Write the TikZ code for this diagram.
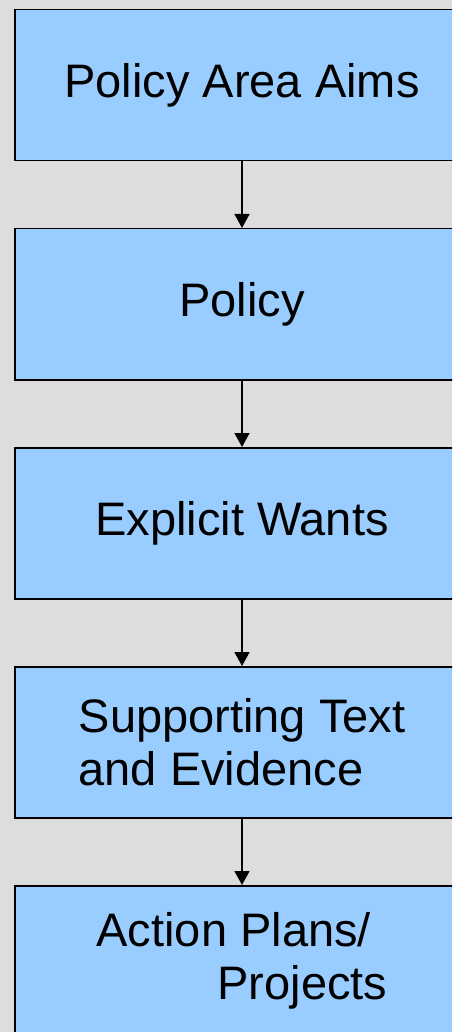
\documentclass[tikz,border=0pt]{standalone}
\usepackage{fontspec}
\setmainfont{Liberation Sans}
\usepackage{xcolor}
\usepackage{tikz}
\usetikzlibrary{arrows.meta, positioning}

\definecolor{nenxam}{HTML}{DDDDDD}
\definecolor{xanhnhat}{HTML}{99CCFF}

\begin{document}
\begin{tikzpicture}[>={Triangle[length=14pt, width=15pt]}, node distance=66.5pt,
    hop/.style={draw=black, line width=1.5pt, fill=xanhnhat,
        minimum width=454pt, minimum height=151pt, inner sep=0pt,
        align=left, font=\fontsize{47pt}{53pt}\selectfont}]
    % Khung nền xám, cắt phần hộp tràn ra ngoài
    \useasboundingbox (0,0) rectangle (452pt,-1032pt);
    \clip (0,0) rectangle (452pt,-1032pt);
    \fill[nenxam] (0,0) rectangle (452pt,-1032pt);

    % Các hộp xếp theo cột dọc
    \node[hop, anchor=north] (aims) at (242pt,-9pt) {Policy Area Aims};
    \node[hop, below=of aims] (policy) {Policy};
    \node[hop, below=of policy] (wants) {Explicit Wants};
    \node[hop, below=of wants] (evidence) {Supporting Text\\and Evidence};
    \node[hop, below=of evidence] (plans) {Action Plans/\\\hspace*{121pt}Projects};

    % Mũi tên nối các hộp
    \draw[->, line width=1.5pt] (aims) -- (policy);
    \draw[->, line width=1.5pt] (policy) -- (wants);
    \draw[->, line width=1.5pt] (wants) -- (evidence);
    \draw[->, line width=1.5pt] (evidence) -- (plans);
\end{tikzpicture}
\end{document}
